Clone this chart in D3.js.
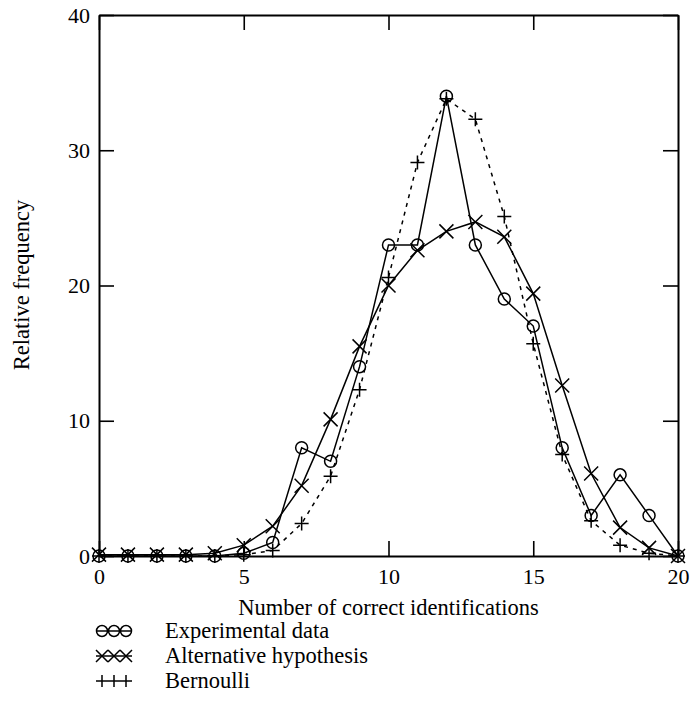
<!DOCTYPE html>
<html>
<head>
<meta charset="utf-8">
<script src="https://cdn.jsdelivr.net/npm/d3@7"></script>
<style>
  body { margin: 0; background: #fff; }
</style>
</head>
<body>
<div id="chart"></div>
<script>
// number of correct identifications (0..20)
var counts = d3.range(0, 21);
var experimental = [0, 0, 0, 0, 0, 0.2, 1, 8, 7, 14, 23, 23, 34, 23, 19, 17, 8, 3, 6, 3, 0];
var alternative = [0.1, 0.1, 0.1, 0.1, 0.2, 0.8, 2.2, 5.2, 10.1, 15.5, 20, 22.6, 24, 24.7, 23.6, 19.4, 12.6, 6.1, 2.1, 0.6, 0];
var bernoulli = [0, 0, 0, 0, 0, 0.1, 0.4, 2.4, 5.9, 12.3, 20.6, 29.1, 33.8, 32.3, 25.1, 15.7, 7.5, 2.6, 0.8, 0.2, 0];
var xTicks = [0, 5, 10, 15, 20];
var yTicks = [0, 10, 20, 30, 40];

var serif = "'Liberation Serif', 'DejaVu Serif', serif";

var full_width = 696, full_height = 702;
var margin = { top: 15, right: 18, bottom: 146, left: 99 };
var width = full_width - margin.left - margin.right;
var height = full_height - margin.top - margin.bottom;

var svg = d3.select("#chart").append("svg")
    .attr("width", full_width)
    .attr("height", full_height);

var g = svg.append("g")
    .attr("transform", "translate(" + margin.left + "," + margin.top + ")");

var x = d3.scaleLinear().domain([0, 20]).range([0, width]);
var y = d3.scaleLinear().domain([0, 40]).range([height, 0]);

var tickLen = 15;

// Axes (ticks pointing inward on all four sides)
var axBottom = g.append("g").attr("transform", "translate(0," + height + ")")
    .call(d3.axisBottom(x).tickValues(xTicks).tickSize(-tickLen).tickSizeOuter(0).tickPadding(12));
var axTop = g.append("g")
    .call(d3.axisTop(x).tickValues(xTicks).tickSize(-tickLen).tickSizeOuter(0).tickFormat(""));
var axLeft = g.append("g")
    .call(d3.axisLeft(y).tickValues(yTicks).tickSize(-tickLen).tickSizeOuter(0).tickPadding(9));
var axRight = g.append("g").attr("transform", "translate(" + width + ",0)")
    .call(d3.axisRight(y).tickValues(yTicks).tickSize(-tickLen).tickSizeOuter(0).tickFormat(""));

[axBottom, axTop, axLeft, axRight].forEach(function(a) {
    a.attr("font-family", serif).attr("font-size", 22);
    a.select(".domain").attr("stroke", "#000").attr("stroke-width", 2);
    a.selectAll(".tick line").attr("stroke", "#000").attr("stroke-width", 1.6);
    a.selectAll(".tick text").attr("fill", "#000");
});

// Axis labels
svg.append("text")
    .attr("x", margin.left + width / 2)
    .attr("y", 615)
    .attr("font-family", serif)
    .attr("font-size", 22.5)
    .style("text-anchor", "middle")
    .text("Number of correct identifications");

svg.append("text")
    .attr("transform", "translate(29," + 285 + ") rotate(-90)")
    .attr("font-family", serif)
    .attr("font-size", 22.5)
    .style("text-anchor", "middle")
    .text("Relative frequency");

var line = d3.line()
    .x(function(d, i) { return x(counts[i]); })
    .y(function(d) { return y(d); });

var plot = g.append("g");

plot.append("path").datum(bernoulli)
    .attr("d", line).attr("fill", "none").attr("stroke", "#000")
    .attr("stroke-width", 1.5).attr("stroke-dasharray", "4,5");
plot.append("path").datum(alternative)
    .attr("d", line).attr("fill", "none").attr("stroke", "#000").attr("stroke-width", 1.5);
plot.append("path").datum(experimental)
    .attr("d", line).attr("fill", "none").attr("stroke", "#000").attr("stroke-width", 1.5);

function drawCircle(sel, cx, cy, r) {
    sel.append("circle").attr("cx", cx).attr("cy", cy).attr("r", r)
        .attr("fill", "none").attr("stroke", "#000").attr("stroke-width", 1.5);
}
function drawCross(sel, cx, cy, s) {
    sel.append("path")
        .attr("d", "M" + (cx - s) + "," + (cy - s) + "L" + (cx + s) + "," + (cy + s) +
                   "M" + (cx - s) + "," + (cy + s) + "L" + (cx + s) + "," + (cy - s))
        .attr("stroke", "#000").attr("stroke-width", 1.5);
}
function drawPlus(sel, cx, cy, s) {
    sel.append("path")
        .attr("d", "M" + (cx - s) + "," + cy + "L" + (cx + s) + "," + cy +
                   "M" + cx + "," + (cy - s) + "L" + cx + "," + (cy + s))
        .attr("stroke", "#000").attr("stroke-width", 1.5);
}

experimental.forEach(function(d, i) { drawCircle(plot, x(counts[i]), y(d), 6); });
alternative.forEach(function(d, i) { drawCross(plot, x(counts[i]), y(d), 7); });
bernoulli.forEach(function(d, i) { drawPlus(plot, x(counts[i]), y(d), 7); });

// Legend
var legendItems = ["Experimental data", "Alternative hypothesis", "Bernoulli"];
var legend = svg.append("g");
legendItems.forEach(function(name, k) {
    var cy = 631 + k * 25;
    for (var j = 0; j < 3; j++) {
        var cx = 102 + j * 12;
        if (k === 0) {
            drawCircle(legend, cx, cy, 5.5);
            legend.append("line").attr("x1", cx - 5.5).attr("x2", cx + 5.5)
                .attr("y1", cy).attr("y2", cy).attr("stroke", "#000").attr("stroke-width", 1.5);
        } else if (k === 1) {
            drawCross(legend, cx, cy, 6);
            legend.append("line").attr("x1", cx - 6).attr("x2", cx + 6)
                .attr("y1", cy).attr("y2", cy).attr("stroke", "#000").attr("stroke-width", 1.5);
        } else {
            drawPlus(legend, cx, cy, 6);
        }
    }
    legend.append("text")
        .attr("x", 165)
        .attr("y", cy + 7)
        .attr("font-family", serif)
        .attr("font-size", 22.5)
        .text(name);
});
</script>
</body>
</html>
